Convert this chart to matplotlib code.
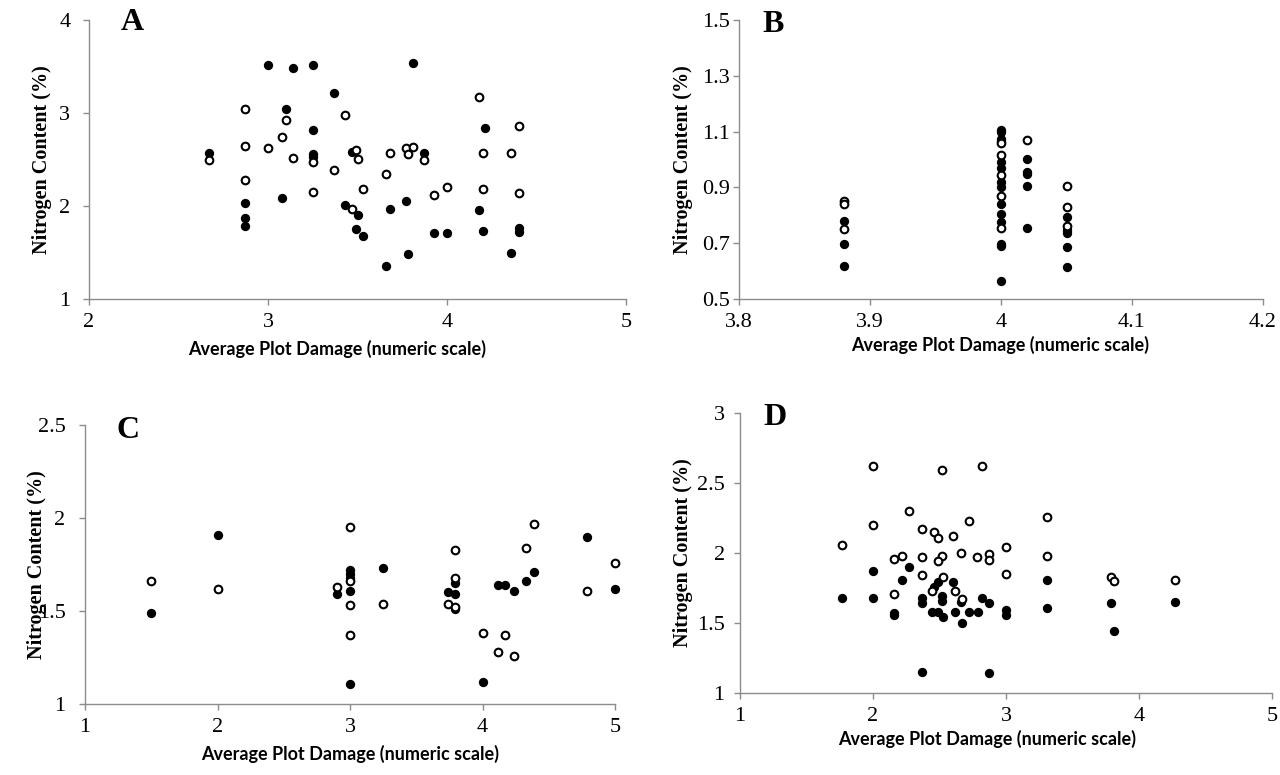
import matplotlib
matplotlib.use("Agg")
import matplotlib.pyplot as plt
from matplotlib.ticker import FormatStrFormatter

# Panel A
a_open_x = [2.67, 2.87, 2.87, 2.87, 3.10, 3.43, 3.08, 3.00, 3.14, 3.25, 3.37, 3.49, 3.50, 3.53, 3.25,
            3.47, 4.18, 4.40, 3.68, 3.77, 3.81, 3.78, 3.87, 3.66, 4.20, 4.36, 3.93, 4.00, 4.20, 4.40]
a_open_y = [2.49, 3.04, 2.65, 2.28, 2.92, 2.98, 2.74, 2.62, 2.52, 2.47, 2.39, 2.60, 2.50, 2.18, 2.15,
            1.97, 3.17, 2.86, 2.57, 2.62, 2.63, 2.56, 2.49, 2.34, 2.57, 2.57, 2.12, 2.20, 2.18, 2.14]
a_fill_x = [2.67, 2.87, 2.87, 2.87, 3.00, 3.14, 3.25, 3.37, 3.10, 3.25, 3.25, 3.25, 3.47, 3.08, 3.43, 3.50,
            3.49, 3.53, 3.81, 4.21, 3.87, 3.68, 3.77, 4.18, 3.93, 4.00, 4.20, 4.40, 4.40, 3.78, 3.66, 4.36]
a_fill_y = [2.57, 2.03, 1.87, 1.78, 3.52, 3.48, 3.52, 3.22, 3.04, 2.82, 2.56, 2.53, 2.58, 2.09, 2.01, 1.90,
            1.75, 1.68, 3.54, 2.84, 2.57, 1.97, 2.05, 1.96, 1.71, 1.71, 1.73, 1.76, 1.72, 1.48, 1.36, 1.49]

# Panel B
b_open_x = [3.88, 3.88, 3.88, 4.00, 4.00, 4.00, 4.00, 4.00, 4.02, 4.05, 4.05, 4.05]
b_open_y = [0.851, 0.840, 0.750, 1.060, 1.016, 0.944, 0.870, 0.753, 1.070, 0.905, 0.831, 0.763]
b_fill_x = [3.88, 3.88, 3.88,
            4.00, 4.00, 4.00, 4.00, 4.00, 4.00, 4.00, 4.00, 4.00, 4.00, 4.00, 4.00, 4.00, 4.00,
            4.02, 4.02, 4.02, 4.02, 4.02,
            4.05, 4.05, 4.05, 4.05, 4.05]
b_fill_y = [0.780, 0.696, 0.620,
            1.106, 1.098, 1.075, 1.065, 0.992, 0.968, 0.920, 0.903, 0.840, 0.804, 0.777, 0.696,
            0.690, 0.565,
            1.000, 0.956, 0.947, 0.904, 0.753,
            0.795, 0.747, 0.735, 0.688, 0.616]

# Panel C
c_open_x = [1.5, 2.0, 3.0, 2.9, 3.0, 3.0, 3.0, 3.25, 3.79, 3.79, 3.74, 3.79, 4.0, 4.12, 4.17, 4.24,
            4.33, 4.39, 4.79, 5.0]
c_open_y = [1.66, 1.62, 1.95, 1.63, 1.66, 1.53, 1.37, 1.54, 1.83, 1.68, 1.54, 1.52, 1.38, 1.28, 1.37, 1.26,
            1.84, 1.97, 1.61, 1.76]
c_fill_x = [1.5, 2.0, 2.9, 3.0, 3.0, 3.0, 3.0, 3.0, 3.25, 3.79, 3.74, 3.79, 3.79, 4.0, 4.12, 4.17, 4.24,
            4.33, 4.39, 4.79, 5.0]
c_fill_y = [1.49, 1.91, 1.59, 1.72, 1.70, 1.68, 1.61, 1.11, 1.73, 1.65, 1.60, 1.59, 1.51, 1.12, 1.64, 1.64, 1.61,
            1.66, 1.71, 1.90, 1.62]

# Panel D
d_open_x = [1.77, 2.0, 2.0, 2.16, 2.16, 2.22, 2.27, 2.37, 2.37, 2.37, 2.46, 2.49, 2.52, 2.52, 2.49, 2.53,
            2.44, 2.60, 2.62, 2.66, 2.67, 2.72, 2.78, 2.82, 2.87, 2.87, 3.0, 3.0, 3.31, 3.31, 3.79, 3.81, 4.27]
d_open_y = [2.06, 2.62, 2.20, 1.96, 1.71, 1.98, 2.30, 2.17, 1.97, 1.84, 2.15, 2.11, 2.59, 1.98, 1.94, 1.83,
            1.73, 2.12, 1.73, 2.00, 1.67, 2.23, 1.97, 2.62, 1.99, 1.95, 2.04, 1.85, 2.26, 1.98, 1.83, 1.80, 1.81]
d_fill_x = [1.77, 2.0, 2.0, 2.16, 2.16, 2.22, 2.27, 2.37, 2.37, 2.37, 2.46, 2.49, 2.52, 2.52, 2.44, 2.49,
            2.53, 2.60, 2.62, 2.66, 2.67, 2.72, 2.79, 2.82, 2.87, 3.0, 3.0, 2.87, 3.31, 3.31, 3.79, 3.81, 4.27]
d_fill_y = [1.68, 1.87, 1.68, 1.57, 1.56, 1.81, 1.90, 1.68, 1.645, 1.15, 1.76, 1.79, 1.69, 1.66, 1.58, 1.58,
            1.54, 1.79, 1.58, 1.65, 1.50, 1.58, 1.58, 1.68, 1.64, 1.59, 1.56, 1.145, 1.81, 1.61, 1.64, 1.44, 1.65]

panels = [
    ("A", a_open_x, a_open_y, a_fill_x, a_fill_y, (2, 5), [2, 3, 4, 5], (1, 4), [1, 2, 3, 4]),
    ("B", b_open_x, b_open_y, b_fill_x, b_fill_y, (3.8, 4.2), [3.8, 3.9, 4.0, 4.1, 4.2],
     (0.5, 1.5), [0.5, 0.7, 0.9, 1.1, 1.3, 1.5]),
    ("C", c_open_x, c_open_y, c_fill_x, c_fill_y, (1, 5), [1, 2, 3, 4, 5], (1, 2.5), [1, 1.5, 2, 2.5]),
    ("D", d_open_x, d_open_y, d_fill_x, d_fill_y, (1, 5), [1, 2, 3, 4, 5], (1, 3), [1, 1.5, 2, 2.5, 3]),
]

# axes boxes in pixels: left, right, top, bottom
boxes = [(89, 626, 20, 299), (739, 1263, 20, 299), (85, 615, 425, 704), (740, 1272, 413, 693)]
letter_pos = [(0.08, 0.99), (0.065, 0.985), (0.081, 0.98), (0.066, 0.985)]
# x label: horizontal centre in px, top offset below axes in px
xlab_pos = [(337, 41), (1000, 37), (350, 41), (987, 37)]
# y label right edge offset from spine (px), y tick label pad (pt)
ylab_off = [37, 46, 38, 47]
ytick_pad = [9.5, 2.5, 10, 7]

W, H = 1280, 775
fig = plt.figure(figsize=(12.8, 7.75), dpi=100)

serif = "Liberation Serif"
gray = "#8c8c8c"

for (letter, ox, oy, fx, fy, xlim, xt, ylim, yt), (l, r, t, b), lp, (xc, xoff), yo, yp in zip(
        panels, boxes, letter_pos, xlab_pos, ylab_off, ytick_pad):
    ax = fig.add_axes([l / W, 1 - b / H, (r - l) / W, (b - t) / H])
    ax.plot(fx, fy, "o", ms=5.5, mfc="black", mec="black", mew=1.2, ls="none", clip_on=False)
    ax.plot(ox, oy, "o", ms=5.5, mfc="white", mec="black", mew=1.5, ls="none", clip_on=False)
    ax.set_xlim(*xlim)
    ax.set_ylim(*ylim)
    ax.set_xticks(xt)
    ax.set_yticks(yt)
    ax.xaxis.set_major_formatter(FormatStrFormatter("%g"))
    ax.yaxis.set_major_formatter(FormatStrFormatter("%g"))
    for s in ["top", "right"]:
        ax.spines[s].set_visible(False)
    for s in ["left", "bottom"]:
        ax.spines[s].set_color(gray)
        ax.spines[s].set_linewidth(1.0)
    ax.tick_params(direction="out", length=4, width=1.0, color=gray, labelsize=16)
    ax.tick_params(axis="x", pad=6)
    ax.tick_params(axis="y", pad=yp)
    for lab in ax.get_xticklabels() + ax.get_yticklabels():
        lab.set_fontfamily(serif)
    ax.set_xlabel("Average Plot Damage (numeric scale)", fontsize=13, fontweight="bold", family="Lato")
    ax.set_ylabel("Nitrogen Content (%)", fontsize=14.5, fontweight="bold", family=serif)
    ax.xaxis.set_label_coords((xc - l) / (r - l), -xoff / (b - t), transform=ax.transAxes)
    ax.yaxis.set_label_coords(-yo / (r - l), 0.5, transform=ax.transAxes)
    ax.text(lp[0], lp[1], letter, transform=ax.transAxes, fontsize=23, fontweight="bold",
            family=serif, ha="center", va="center")

fig.savefig("out.png", dpi=100)
